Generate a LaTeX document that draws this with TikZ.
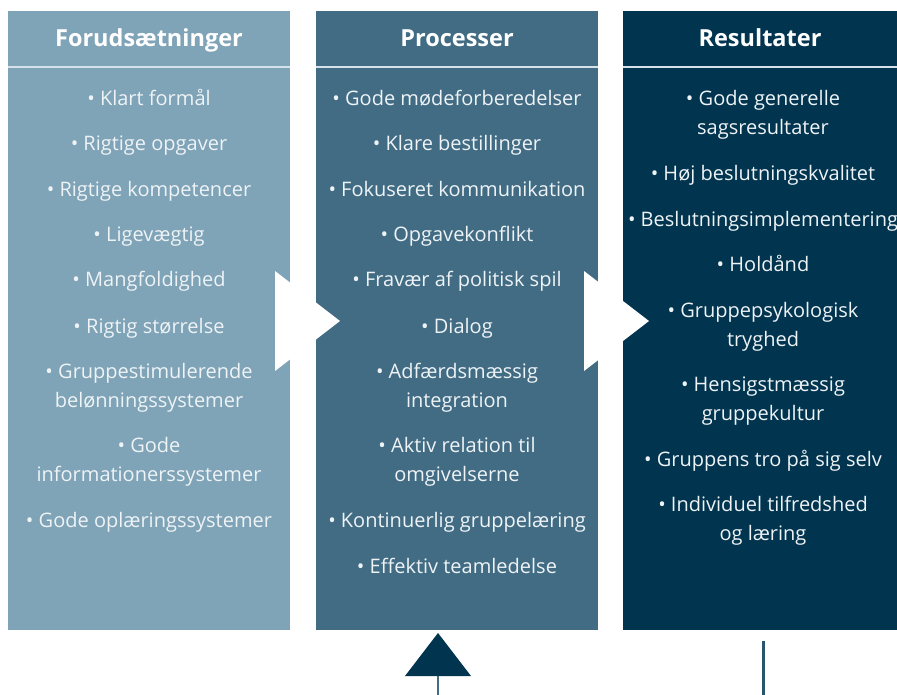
\documentclass[tikz,border=0pt]{standalone}
\usepackage{fontspec}
\setmainfont{Open Sans}
\definecolor{forblue}{HTML}{7FA3B7}
\definecolor{problue}{HTML}{426C84}
\definecolor{resblue}{HTML}{01344F}
\definecolor{rulegray}{HTML}{D5E2E9}
\definecolor{itemwhite}{HTML}{EEF3F6}
\tikzset{
  head/.style={text=white, anchor=base, font=\fontsize{23.5}{28}\selectfont\bfseries},
  item/.style={text=itemwhite, anchor=base, align=center, font=\fontsize{20}{29}\selectfont, inner sep=0pt},
}
\newcommand{\bu}{\textbullet\ }

\begin{document}
\begin{tikzpicture}[x=1pt, y=-1pt]
    \useasboundingbox (0,0) rectangle (897,695);
    % columns
    \fill[forblue](8,11) rectangle (290,630);
    \fill[problue](316,11) rectangle (598,630);
    \fill[resblue](623,11) rectangle (897,630);
    \draw[rulegray, line width=2pt](8,67)--(290,67);
    \draw[rulegray, line width=2pt](316,67)--(598,67);
    \draw[rulegray, line width=2pt](623,67)--(897,67);
    \node[head](h1)at(149,47){Forudsætninger};
    \node[head](h2)at(457,47){Processer};
    \node[head](h3)at(760,47){Resultater};
    % Forudsaetninger (two-line items sit on their last baseline)
    \node[item](f1)at(149,106){\bu Klart formål};
    \node[item](f2)at(149,151){\bu Rigtige opgaver};
    \node[item](f3)at(149,197){\bu Rigtige kompetencer};
    \node[item](f4)at(149,242){\bu Ligevægtig};
    \node[item](f5)at(149,287){\bu Mangfoldighed};
    \node[item](f6)at(149,333){\bu Rigtig størrelse};
    \node[item](f7)at(149,407){\bu Gruppestimulerende\\belønningssystemer};
    \node[item](f8)at(149,481){\bu Gode\\informationerssystemer};
    \node[item](f9)at(149,527){\bu Gode oplæringssystemer};
    % Processer
    \node[item](p1)at(457,106){\bu Gode mødeforberedelser};
    \node[item](p2)at(457,151){\bu Klare bestillinger};
    \node[item](p3)at(457,197){\bu Fokuseret kommunikation};
    \node[item](p4)at(457,242){\bu Opgavekonflikt};
    \node[item](p5)at(457,287){\bu Fravær af politisk spil};
    \node[item](p6)at(457,333){\bu Dialog};
    \node[item](p7)at(457,407){\bu Adfærdsmæssig\\integration};
    \node[item](p8)at(457,481){\bu Aktiv relation til\\omgivelserne};
    \node[item](p9)at(457,527){\bu Kontinuerlig gruppelæring};
    \node[item](p10)at(457,573){\bu Effektiv teamledelse};
    % Resultater
    \node[item](r1)at(763,135){\bu Gode generelle\\sagsresultater};
    \node[item](r2)at(763,181){\bu Høj beslutningskvalitet};
    \node[item](r3)at(763,226){\bu Beslutningsimplementering};
    \node[item](r4)at(763,271){\bu Holdånd};
    \node[item](r5)at(763,346){\bu Gruppepsykologisk\\tryghed};
    \node[item](r6)at(763,420){\bu Hensigstmæssig\\gruppekultur};
    \node[item](r7)at(763,466){\bu Gruppens tro på sig selv};
    \node[item](r8)at(763,540){\bu Individuel tilfredshed\\og læring};
    % arrows
    \fill[white](275,271)--(340,321)--(275,371)--cycle;
    \fill[white](584,271)--(649,321)--(584,371)--cycle;
    \coordinate(tip)at(438,633);
    \coordinate(stem)at(438,676);
    \coordinate(stemend)at(438,695);
    \fill[resblue](tip)--(471,676)--(405,676)--cycle;
    \draw[problue, line width=2pt](stem)--(stemend);
    \coordinate(rtop)at(763,641);
    \coordinate(rend)at(763,695);
    \draw[problue!60!resblue, line width=3pt](rtop)--(rend);
\end{tikzpicture}
\end{document}
